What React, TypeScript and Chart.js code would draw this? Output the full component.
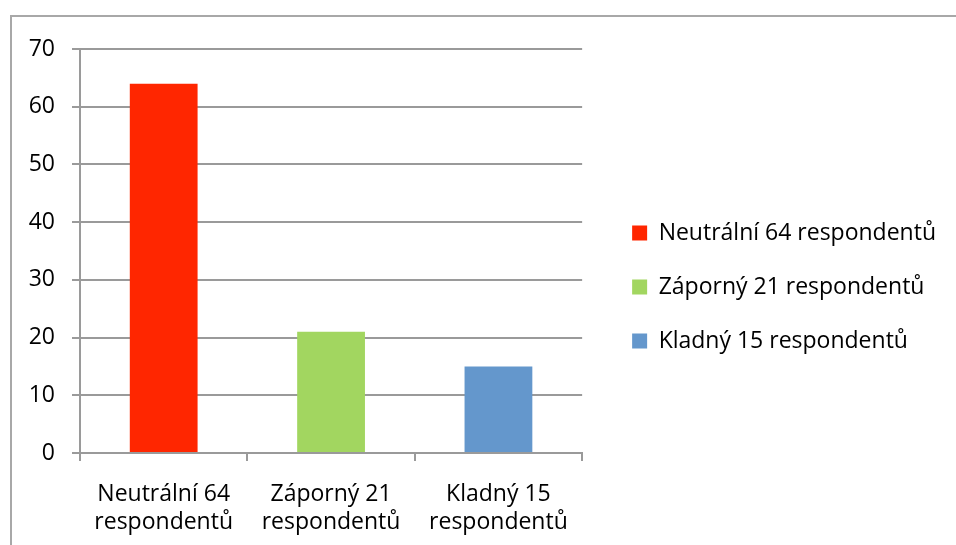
import React, { useEffect, useRef } from "react";
import { Chart, registerables } from "chart.js";

Chart.register(...registerables);

const legendNames = ["Neutrální 64 respondentů", "Záporný 21 respondentů", "Kladný 15 respondentů"];
const categoryLines = [
  ["Neutrální 64", "respondentů"],
  ["Záporný 21", "respondentů"],
  ["Kladný 15", "respondentů"],
];
const values = [64, 21, 15];
const barColors = ["#FF2600", "#A2D660", "#6497CC"];
const yTicks = [0, 10, 20, 30, 40, 50, 60, 70];

const FONT = "'Open Sans', sans-serif";
const GRID = "#9a9a9a";

export default function App() {
  const ref = useRef<HTMLCanvasElement | null>(null);

  useEffect(() => {
    if (!ref.current) return;
    const shiftLegend = {
      id: "shiftLegend",
      afterLayout(chart: any) {
        const lg = chart.legend;
        if (lg) {
          lg.left += 19;
          lg.right += 19;
          lg.top -= 10;
          lg.bottom -= 10;
        }
      },
    };
    const chart = new Chart(ref.current, {
      type: "bar",
      data: {
        labels: categoryLines,
        datasets: [
          {
            label: "Respondenti",
            data: values,
            backgroundColor: barColors,
            borderWidth: 0,
            barPercentage: 0.405,
            categoryPercentage: 1,
          },
        ],
      },
      options: {
        responsive: false,
        animation: false,
        layout: { padding: { top: 32, bottom: 0, left: 0, right: 29 } },
        plugins: {
          tooltip: { enabled: false },
          legend: {
            position: "right",
            align: "center",
            maxWidth: 500,
            labels: {
              boxWidth: 15,
              boxHeight: 15,
              padding: 31,
              color: "#000",
              font: { family: FONT, size: 23 },
              generateLabels: () =>
                legendNames.map((t, i) => ({
                  text: t,
                  fillStyle: barColors[i],
                  strokeStyle: barColors[i],
                  lineWidth: 0,
                  hidden: false,
                  index: i,
                  datasetIndex: 0,
                  fontColor: "#000",
                })),
            },
          },
        },
        scales: {
          x: {
            afterFit(scale: any) {
              scale.height = 92;
            },
            grid: {
              display: true,
              drawOnChartArea: false,
              drawTicks: true,
              tickLength: 8,
              color: GRID,
              lineWidth: 2,
              offset: true,
            },
            border: { display: true, color: GRID, width: 2 },
            ticks: {
              color: "#000",
              padding: 19,
              font: { family: FONT, size: 23, lineHeight: 1.22 },
              maxRotation: 0,
              autoSkip: false,
            },
          },
          y: {
            min: 0,
            max: 70,
            afterFit(scale: any) {
              scale.width = 68;
            },
            afterBuildTicks(scale: any) {
              scale.ticks = yTicks.map((v) => ({ value: v }));
            },
            grid: {
              color: GRID,
              lineWidth: 2,
              drawTicks: true,
              tickLength: 8,
            },
            border: { display: true, color: GRID, width: 2 },
            ticks: {
              color: "#000",
              padding: 17,
              font: { family: FONT, size: 23 },
            },
          },
        },
      },
      plugins: [shiftLegend],
    });
    return () => chart.destroy();
  }, []);

  return (
    <div
      style={{
        position: "absolute",
        left: 10,
        top: 15,
        width: 946,
        height: 530,
        boxSizing: "border-box",
        borderTop: "2px solid #a8a8a8",
        borderLeft: "2px solid #a8a8a8",
        background: "#fff",
      }}
    >
      <canvas ref={ref} width={944} height={528} style={{ display: "block" }} />
    </div>
  );
}
